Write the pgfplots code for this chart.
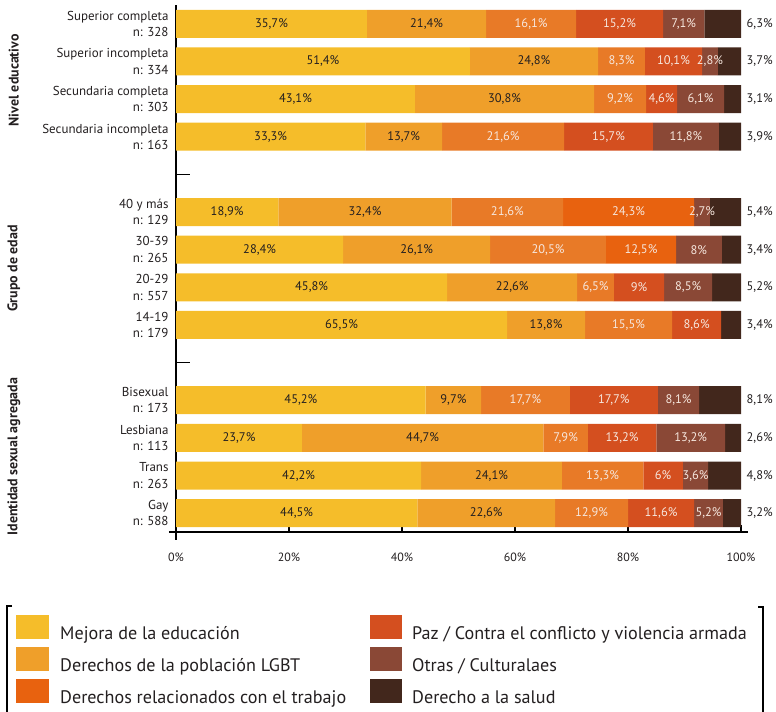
\documentclass[border=0pt]{standalone}
\usepackage{pgfplots}
\pgfplotsset{compat=1.18}
\usepackage{pgfplotstable}
\usepackage{fontspec}
\setmainfont{PT Sans}
\definecolor{cA}{HTML}{F5BD2A}
\definecolor{cB}{HTML}{EF9F2A}
\definecolor{cC}{HTML}{E87A27}
\definecolor{cD}{HTML}{D44F1F}
\definecolor{cW}{HTML}{E8620F}
\definecolor{cE}{HTML}{8A4836}
\definecolor{cF}{HTML}{42271C}
\definecolor{tdark}{HTML}{231F20}
\definecolor{tlight}{HTML}{F6E7DE}

% y: row position (13 = top); a..f: drawn segment lengths (%); la..lf: printed labels
\pgfplotstableread{
y  a    b    c    d    w    e    f   la      lb      lc      ld      lw      le      lf
13 33.8 21.1 15.9 15.4 0    7.3  6.5 35,7\% 21,4\% 16,1\% 15,2\% {}     7,1\%  6,3\%
12 52.0 22.7 8.3  10.1 0    2.8  4.1 51,4\% 24,8\% 8,3\%  10,1\% {}     2,8\%  3,7\%
11 42.3 31.7 9.2  5.5  0    8.3  3.0 43,1\% 30,8\% 9,2\%  4,6\%  {}     6,1\%  3,1\%
10 33.5 13.6 21.6 15.7 0    11.7 3.9 33,3\% 13,7\% 21,6\% 15,7\% {}     11,8\% 3,9\%
8  18.1 30.7 19.7 0    23.2 2.8  5.5 18,9\% 32,4\% 21,6\% {}     24,3\% 2,7\%  5,4\%
7  29.6 26.0 20.5 0    12.4 8.1  3.4 28,4\% 26,1\% 20,5\% {}     12,5\% 8\%    3,4\%
6  48.0 23.0 6.5  8.9  0    8.5  5.1 45,8\% 22,6\% 6,5\%  9\%    {}     8,5\%  5,2\%
5  58.6 13.8 15.4 8.7  0    0    3.5 65,5\% 13,8\% 15,5\% 8,6\%  {}     {}     3,4\%
3  44.2 9.8  15.7 15.6 0    7.3  7.4 45,2\% 9,7\%  17,7\% 17,7\% {}     8,1\%  8,1\%
2  22.3 42.7 7.9  12.1 0    12.2 2.8 23,7\% 44,7\% 7,9\%  13,2\% {}     13,2\% 2,6\%
1  43.4 24.9 14.4 7.0  0    4.5  5.8 42,2\% 24,1\% 13,3\% 6\%    {}     3,6\%  4,8\%
0  42.7 24.4 12.9 11.7 0    5.1  3.2 44,5\% 22,6\% 12,9\% 11,6\% {}     5,2\%  3,2\%
}\data

% 1 % of x = 5.65bp
\pgfplotsset{
  seg/.style 2 args={fill=#1, draw=none, nodes near coords, point meta=explicit symbolic,
    every node near coord/.append style={anchor=center, text=#2, inner sep=0pt,
      font=\fontsize{12.5}{13}\selectfont}},
}

\begin{document}
\begin{tikzpicture}
\path[use as bounding box] (0,0) rectangle (776bp,712bp);
\begin{axis}[
  at={(176bp,180bp)}, anchor=south west,
  scale only axis, width=565bp, height=527bp,
  xbar stacked, bar width=28bp,
  xmin=0, xmax=100, ymin=-0.5, ymax=13.5,
  axis lines*=left,
  axis line style={line width=1.6bp, black},
  x axis line style={shorten <=-7bp, shorten >=-7bp},
  y axis line style={shorten <=-8bp},
  xtick={0,20,40,60,80,100},
  xticklabels={0\%,20\%,40\%,60\%,80\%,100\%},
  xticklabel style={font=\fontsize{12}{13}\selectfont, text=tdark, yshift=-17bp},
  x tick style={line width=1.6bp, black},
  major tick length=7bp,
  tick align=inside,
  ytick={0,...,13},
  yticklabels={{Gay\\n: 588},{Trans\\n: 263},{Lesbiana\\n: 113},{Bisexual\\n: 173},{},
    {14-19\\n: 179},{20-29\\n: 557},{30-39\\n: 265},{40 y más\\n: 129},{},
    {Secundaria incompleta\\n: 163},{Secundaria completa\\n: 303},{Superior incompleta\\n: 334},{Superior completa\\n: 328}},
  yticklabel style={align=right, font=\fontsize{13}{16.5}\selectfont, text=tdark, xshift=-4bp},
  y tick style={draw=none},
  extra y ticks={4,9},
  extra y tick labels={},
  extra y tick style={y tick style={draw=black, line width=1.6bp}, major tick length=14bp},
  clip=false,
]
\addplot[seg={cA}{tdark}] table[x=a, y=y, meta=la] {\data};
\addplot[seg={cB}{tdark}] table[x=b, y=y, meta=lb] {\data};
\addplot[seg={cC}{tlight}] table[x=c, y=y, meta=lc] {\data};
\addplot[seg={cD}{tlight}] table[x=d, y=y, meta=ld] {\data};
\addplot[seg={cW}{tlight}] table[x=w, y=y, meta=lw] {\data};
\addplot[seg={cE}{tlight}] table[x=e, y=y, meta=le] {\data};
\addplot[fill=cF, draw=none, nodes near coords, point meta=explicit symbolic,
  visualization depends on={2.825*\thisrow{f}+5.5 \as \sh},
  every node near coord/.append style={anchor=west, xshift=\sh bp, inner sep=0pt, text=tdark,
    font=\fontsize{12.5}{13}\selectfont}]
  table[x=f, y=y, meta=lf] {\data};

\node[rotate=90, font=\bfseries\fontsize{14}{15}\selectfont, text=tdark] at (axis cs:-28.7,11.5) {Nivel educativo};
\node[rotate=90, font=\bfseries\fontsize{14}{15}\selectfont, text=tdark] at (axis cs:-28.7,6.5) {Grupo de edad};
\node[rotate=90, font=\bfseries\fontsize{14}{15}\selectfont, text=tdark] at (axis cs:-28.7,1.5) {Identidad sexual agregada};
\end{axis}

% legend
\begin{scope}[x=1bp, y=1bp]
\draw[line width=1.2bp, black] (12,106) -- (7,106) -- (7,-2);
\draw[line width=1.2bp, black] (758,105) -- (763,105) -- (763,-2);
\fill[cA] (16,73) rectangle (49,97);
\fill[cB] (16,41) rectangle (49,65);
\fill[cW] (16,9) rectangle (49,33);
\fill[cD] (370,73) rectangle (402,97);
\fill[cE] (370,41) rectangle (402,65);
\fill[cF] (370,9) rectangle (402,33);
\begin{scope}[every node/.style={anchor=base west, inner sep=0pt, text=tdark, font=\fontsize{18.2}{19}\selectfont}]
\node at (60,73) {Mejora de la educación};
\node at (60,41) {Derechos de la población LGBT};
\node at (60,9) {Derechos relacionados con el trabajo};
\node at (412,73) {Paz / Contra el conflicto y violencia armada};
\node at (412,41) {Otras / Culturalaes};
\node at (412,9) {Derecho a la salud};
\end{scope}
\end{scope}
\end{tikzpicture}
\end{document}
